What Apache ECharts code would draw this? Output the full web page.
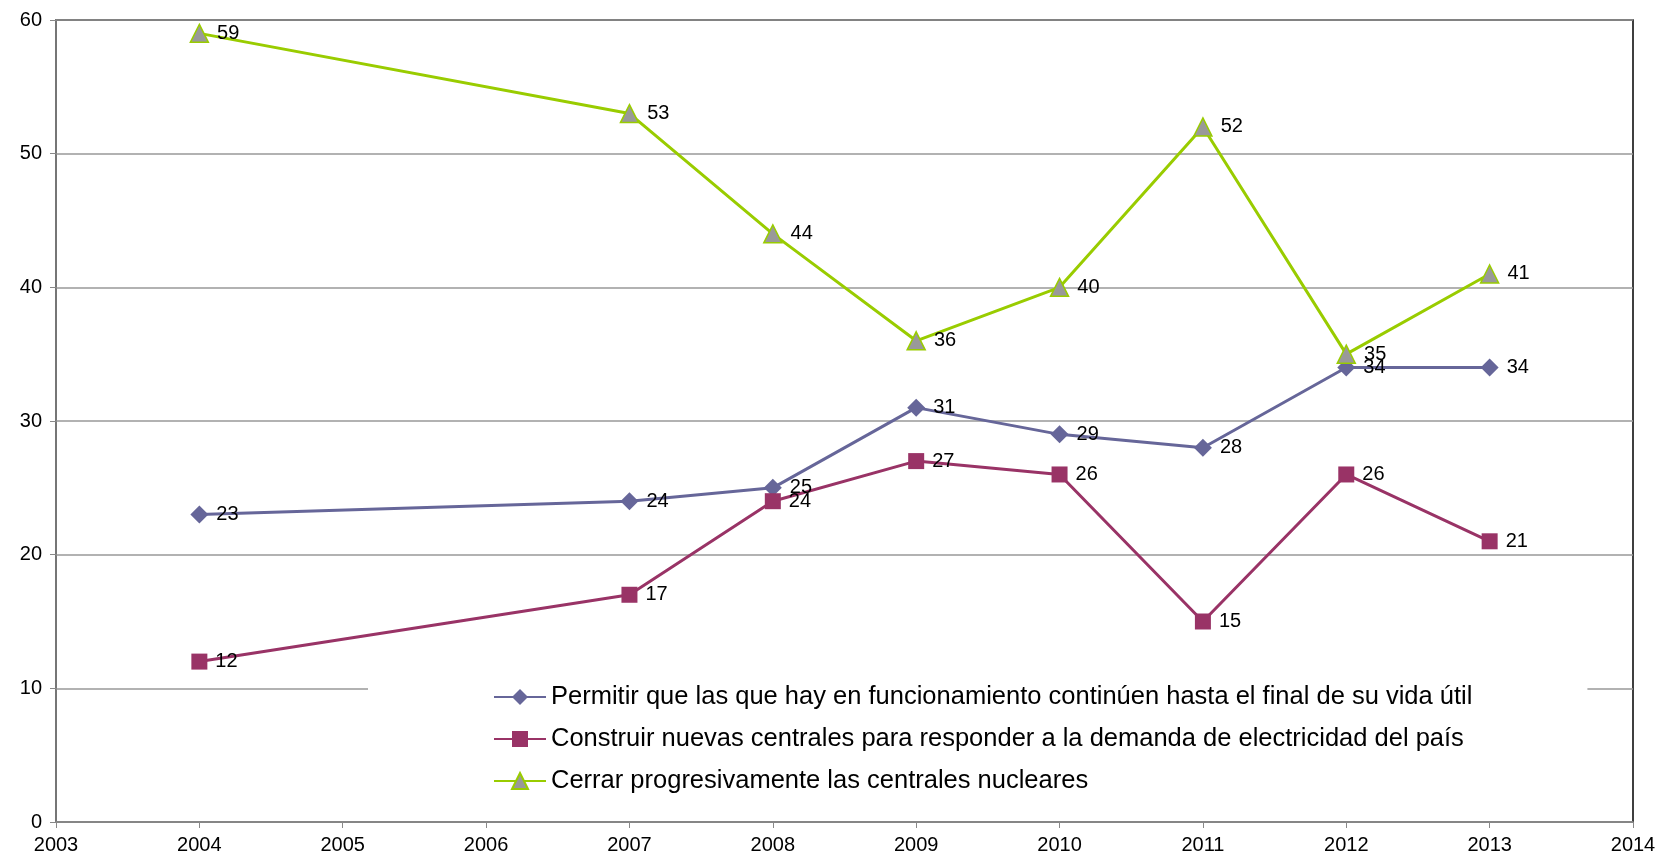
<!DOCTYPE html>
<html>
<head>
<meta charset="utf-8">
<script src="https://cdn.jsdelivr.net/npm/echarts@6/dist/echarts.min.js"></script>
<style>
  html, body { margin: 0; padding: 0; background: #fff; }
  #chart { width: 1674px; height: 866px; }
</style>
</head>
<body>
<div id="chart"></div>
<script>
const years = [2004, 2007, 2008, 2009, 2010, 2011, 2012, 2013];
const permitir = [23, 24, 25, 31, 29, 28, 34, 34];
const construir = [12, 17, 24, 27, 26, 15, 26, 21];
const cerrar = [59, 53, 44, 36, 40, 52, 35, 41];
const names = [
  'Permitir que las que hay en funcionamiento continúen hasta el final de su vida útil',
  'Construir nuevas centrales para responder a la demanda de electricidad del país',
  'Cerrar progresivamente las centrales nucleares'
];

function pairs(vals) {
  return years.map((y, i) => [y, vals[i]]);
}

const chart = echarts.init(document.getElementById('chart'));
const font = 'Liberation Sans, Arial, sans-serif';

// 数据标签
const label = {
  show: true,
  position: 'right',
  distance: 8,
  color: '#000',
  fontSize: 20,
  fontFamily: font
};

chart.setOption({
  animation: false,
  grid: {
    left: 56, top: 20, right: 41, bottom: 44,
    show: true,
    borderColor: '#000',
    borderWidth: 1.5
  },
  legend: {
    orient: 'vertical',
    left: 368,
    top: 676,
    padding: [8, 115, 6, 125],
    backgroundColor: '#fff',
    itemGap: 16,
    itemWidth: 52,
    itemHeight: 20,
    textStyle: { fontSize: 25.5, fontFamily: font, color: '#000' },
    data: names
  },
  xAxis: {
    type: 'value',
    min: 2003, max: 2014, interval: 1,
    axisLine: { lineStyle: { color: '#888', width: 1.5 } },
    axisTick: { show: true, length: 6, lineStyle: { color: '#888' } },
    axisLabel: { color: '#000', fontSize: 20, fontFamily: font, margin: 13, formatter: v => String(v) },
    splitLine: { show: false }
  },
  yAxis: {
    type: 'value',
    min: 0, max: 60, interval: 10,
    axisLine: { show: true, lineStyle: { color: '#888', width: 1.5 } },
    axisTick: { show: true, length: 6, lineStyle: { color: '#888' } },
    axisLabel: { color: '#000', fontSize: 20, fontFamily: font, margin: 14 },
    splitLine: { lineStyle: { color: '#999', width: 1.5 } }
  },
  series: [
    {
      name: names[0], type: 'line', data: pairs(permitir),
      symbol: 'diamond', symbolSize: 18,
      lineStyle: { color: '#666699', width: 3 },
      itemStyle: { color: '#666699' },
      label: label
    },
    {
      name: names[1], type: 'line', data: pairs(construir),
      symbol: 'rect', symbolSize: 16,
      lineStyle: { color: '#993366', width: 3 },
      itemStyle: { color: '#993366' },
      label: label
    },
    {
      name: names[2], type: 'line', data: pairs(cerrar),
      symbol: 'triangle', symbolSize: 18,
      lineStyle: { color: '#99cc00', width: 3 },
      itemStyle: { color: '#999999', borderColor: '#99cc00', borderWidth: 1.5 },
      label: label
    }
  ]
});
</script>
</body>
</html>
